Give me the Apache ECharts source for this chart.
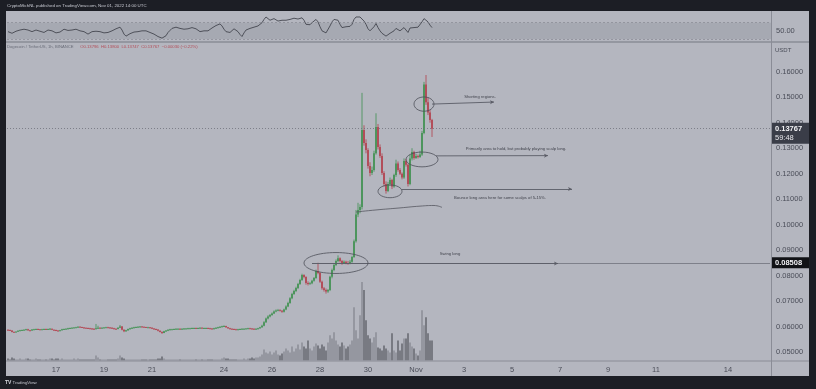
<!DOCTYPE html>
<html><head><meta charset="utf-8">
<script src="https://cdn.jsdelivr.net/npm/echarts@6/dist/echarts.min.js"></script>
<style>html,body{margin:0;padding:0;background:#1c1e25;}#c{width:816px;height:389px;}</style>
</head><body><div id="c"></div>
<script>
// ---------- DATA (2h candles, DOGE/USDT, from 15 Oct 2022 00:00) ----------
const firstOpen = 0.0588;
const closes = [
0.0587,0.0585,0.0580,0.0578,0.0581,0.0584,0.0586,0.0587,0.0588,0.0590,
0.0586,0.0585,0.0589,0.0590,0.0591,0.0590,0.0589,0.0590,0.0591,0.0590,
0.0591,0.0592,0.0588,0.0587,0.0585,0.0584,0.0586,0.0590,0.0591,0.0592,
0.0594,0.0595,0.0596,0.0597,0.0598,0.0600,0.0599,0.0597,0.0596,0.0595,
0.0594,0.0593,0.0592,0.0591,0.0594,0.0596,0.0595,0.0596,0.0597,0.0598,
0.0597,0.0596,0.0594,0.0592,0.0591,0.0596,0.0601,0.0588,0.0582,0.0586,
0.0591,0.0594,0.0596,0.0598,0.0599,0.0600,0.0601,0.0600,0.0599,0.0598,
0.0598,0.0596,0.0593,0.0591,0.0589,0.0584,0.0580,0.0576,0.0582,0.0585,
0.0588,0.0590,0.0590,0.0591,0.0592,0.0592,0.0591,0.0592,0.0593,0.0593,
0.0594,0.0594,0.0595,0.0595,0.0594,0.0595,0.0596,0.0595,0.0595,0.0595,
0.0594,0.0593,0.0592,0.0594,0.0596,0.0598,0.0600,0.0602,0.0603,0.0598,
0.0594,0.0592,0.0591,0.0590,0.0589,0.0590,0.0591,0.0592,0.0592,0.0593,
0.0594,0.0593,0.0592,0.0591,0.0592,0.0594,0.0598,0.0604,0.0618,0.0632,
0.0640,0.0646,0.0652,0.0660,0.0664,0.0666,0.0663,0.0659,0.0668,0.0680,
0.0693,0.0712,0.0729,0.0740,0.0752,0.0768,0.0783,0.0803,0.0795,0.0772,
0.0768,0.0771,0.0780,0.0791,0.0819,0.0811,0.0777,0.0751,0.0744,0.0738,
0.0744,0.0796,0.0823,0.0842,0.0858,0.0869,0.0858,0.0849,0.0855,0.0850,
0.0849,0.0855,0.0874,0.0935,0.1040,0.1058,0.1070,0.1371,0.1320,0.1293,
0.1230,0.1203,0.1215,0.1280,0.1383,0.1305,0.1270,0.1203,0.1160,0.1132,
0.1160,0.1175,0.1150,0.1195,0.1240,0.1215,0.1200,0.1185,0.1250,0.1235,
0.1160,0.1260,0.1285,0.1262,0.1270,0.1266,0.1275,0.1360,0.1550,0.1480,
0.1440,0.1411,0.13767];
const highs = [
0.0590,0.0589,0.0586,0.0582,0.0583,0.0586,0.0588,0.0589,0.0590,0.0592,
0.0592,0.0588,0.0591,0.0592,0.0593,0.0593,0.0591,0.0592,0.0593,0.0593,
0.0593,0.0595,0.0593,0.0590,0.0589,0.0587,0.0588,0.0592,0.0593,0.0594,
0.0596,0.0597,0.0598,0.0599,0.0600,0.0602,0.0602,0.0600,0.0599,0.0597,
0.0597,0.0596,0.0595,0.0594,0.0611,0.0604,0.0598,0.0598,0.0599,0.0600,
0.0600,0.0599,0.0598,0.0596,0.0594,0.0598,0.0607,0.0603,0.0590,0.0588,
0.0593,0.0596,0.0598,0.0600,0.0601,0.0602,0.0603,0.0603,0.0601,0.0600,
0.0600,0.0599,0.0598,0.0595,0.0593,0.0590,0.0586,0.0582,0.0584,0.0587,
0.0590,0.0592,0.0592,0.0593,0.0594,0.0594,0.0594,0.0594,0.0595,0.0595,
0.0596,0.0596,0.0597,0.0597,0.0597,0.0597,0.0598,0.0598,0.0597,0.0597,
0.0597,0.0596,0.0595,0.0596,0.0598,0.0600,0.0602,0.0604,0.0606,0.0604,
0.0599,0.0596,0.0594,0.0593,0.0592,0.0592,0.0593,0.0594,0.0594,0.0595,
0.0596,0.0596,0.0595,0.0594,0.0594,0.0596,0.0600,0.0608,0.0622,0.0636,
0.0645,0.0650,0.0656,0.0664,0.0668,0.0670,0.0669,0.0665,0.0671,0.0684,
0.0698,0.0716,0.0733,0.0745,0.0757,0.0772,0.0788,0.0808,0.0806,0.0798,
0.0778,0.0775,0.0784,0.0795,0.0824,0.0851,0.0815,0.0781,0.0756,0.0750,
0.0748,0.0800,0.0828,0.0847,0.0864,0.0880,0.0872,0.0862,0.0860,0.0859,
0.0858,0.0862,0.0878,0.0942,0.1058,0.1086,0.1080,0.1517,0.1390,0.1335,
0.1300,0.1245,0.1228,0.1290,0.1437,0.1395,0.1315,0.1280,0.1210,0.1170,
0.1168,0.1185,0.1180,0.1200,0.1255,0.1248,0.1222,0.1205,0.1260,0.1258,
0.1240,0.1275,0.1300,0.1290,0.1278,0.1275,0.1290,0.1368,0.1560,0.1587,
0.1500,0.1450,0.1415];
const lows = [
0.0585,0.0584,0.0578,0.0576,0.0577,0.0580,0.0583,0.0585,0.0586,0.0587,
0.0584,0.0583,0.0584,0.0588,0.0589,0.0588,0.0587,0.0588,0.0589,0.0588,
0.0589,0.0590,0.0587,0.0585,0.0583,0.0582,0.0583,0.0585,0.0589,0.0590,
0.0590,0.0592,0.0594,0.0595,0.0596,0.0597,0.0598,0.0596,0.0594,0.0593,
0.0592,0.0591,0.0590,0.0589,0.0590,0.0592,0.0593,0.0594,0.0595,0.0596,
0.0595,0.0594,0.0592,0.0590,0.0589,0.0590,0.0595,0.0586,0.0579,0.0580,
0.0584,0.0589,0.0592,0.0594,0.0596,0.0597,0.0598,0.0598,0.0597,0.0596,
0.0596,0.0594,0.0591,0.0589,0.0587,0.0582,0.0578,0.0572,0.0575,0.0580,
0.0583,0.0586,0.0588,0.0588,0.0589,0.0590,0.0589,0.0589,0.0590,0.0591,
0.0591,0.0592,0.0592,0.0593,0.0592,0.0592,0.0593,0.0593,0.0593,0.0593,
0.0592,0.0591,0.0590,0.0590,0.0592,0.0594,0.0596,0.0598,0.0600,0.0596,
0.0592,0.0590,0.0589,0.0588,0.0587,0.0587,0.0588,0.0589,0.0590,0.0591,
0.0591,0.0591,0.0590,0.0589,0.0589,0.0590,0.0592,0.0596,0.0602,0.0615,
0.0629,0.0637,0.0643,0.0650,0.0657,0.0661,0.0660,0.0655,0.0656,0.0665,
0.0677,0.0690,0.0708,0.0725,0.0736,0.0748,0.0764,0.0780,0.0790,0.0765,
0.0762,0.0764,0.0767,0.0777,0.0788,0.0806,0.0772,0.0745,0.0738,0.0730,
0.0733,0.0740,0.0790,0.0818,0.0838,0.0853,0.0852,0.0843,0.0846,0.0845,
0.0843,0.0845,0.0851,0.0870,0.0930,0.1030,0.1045,0.1060,0.1310,0.1280,
0.1220,0.1190,0.1195,0.1208,0.1275,0.1295,0.1262,0.1195,0.1150,0.1122,
0.1128,0.1152,0.1140,0.1145,0.1188,0.1208,0.1195,0.1178,0.1180,0.1228,
0.1150,0.1155,0.1252,0.1255,0.1258,0.1260,0.1262,0.1270,0.1355,0.1470,
0.1430,0.1400,0.1344];
const volumes = [
2,1,3,2,1,1,2,1,1,2, 2,1,1,1,2,1,1,1,1,1, 1,2,2,1,2,2,1,2,1,1,
1,1,1,2,1,2,1,1,1,1, 1,1,1,1,5,3,1,1,1,1, 1,1,1,1,1,2,5,3,2,1,
1,1,1,1,1,1,1,1,1,1, 1,1,1,1,1,2,2,4,2,1, 1,1,1,1,1,1,1,1,1,1,
1,1,1,1,1,1,1,1,1,1, 1,1,1,1,1,1,1,2,3,2, 2,1,1,1,1,1,1,1,2,1,
2,2,3,2,3,3,4,6,11,8, 7,9,6,8,10,6,5,7,9,12, 10,8,14,9,12,16,11,18,14,12,
20,12,10,14,17,15,12,16,14,10, 18,25,22,28,20,16,14,18,15,12,
14,16,20,53,30,22,45,78,70,40, 25,22,18,23,28,13,12,10,15,12,
10,8,27,10,8,20,10,17,22,22, 27,18,14,12,7,5,10,50,35,43, 27,20,20];
const rsi = [
48,46,44,46,49,51,52,53,54,54, 52,49,48,50,52,51,49,47,46,48,
52,56,50,47,45,44,47,51,54,53, 51,50,52,53,54,52,50,49,48,47,
42,40,48,50,49,48,48,46,45,44, 46,48,50,53,55,57,59,52,42,37,
39,43,45,47,48,48,49,50,51,50, 48,46,44,42,39,36,33,32,35,38,
46,51,56,60,59,57,56,55,54,53, 55,57,58,57,55,51,48,47,50,51,
50,53,57,60,63,66,67,62,54,48, 44,46,50,55,53,48,41,36,45,52,
55,56,58,59,61,62,64,70,78,84, 82,76,78,80,77,74,72,76,78,76,
74,78,80,81,80,79,81,82,76,66, 62,65,70,74,78,72,60,50,47,45,
48,62,72,78,81,76,66,58,62,60, 58,61,66,78,84,85,84,86,74,66,
55,50,52,60,68,58,50,44,40,37, 40,44,42,50,56,52,50,48,58,55,
46,57,61,58,60,59,62,72,80,82, 72,64,58];
const slotCount = 382;                      // 2h slots shown on the time axis
const tickSlots  = [24,48,72,108,132,156,180,204,228,252,276,300,324,360];
const tickLabels = ['17','19','21','24','26','28','30','Nov','3','5','7','9','11','14'];
const lastPrice = 0.13767, swingPrice = 0.08508;
const rsiBand = [30, 70];
// annotations in data units (slot, price)
const ellipses = [
  {slot:164, price:0.0850, halfSlots:16, halfPrice:0.0041},
  {slot:191, price:0.1131, halfSlots:6,  halfPrice:0.0025},
  {slot:207, price:0.1256, halfSlots:8,  halfPrice:0.0029},
  {slot:208, price:0.1473, halfSlots:5,  halfPrice:0.0028}
];
const arrows = [
  {from:[152,0.0848], to:[275,0.0848]},
  {from:[197,0.1140], to:[282,0.1140]},
  {from:[214,0.1270], to:[270,0.1271]},
  {from:[212,0.1473], to:[243,0.1481]}
];
const curve = [[174,0.1050],[184,0.1058],[196,0.1066],[206,0.1073],[213,0.10755],[217,0.1068]];
const notes = [
  {text:'Swing long', slot:221, price:0.0885},
  {text:'Bounce long area here for some scalps of 5-15%.', slot:246, price:0.1107},
  {text:'Primarily area to hold, but probably playing scalp long.', slot:254, price:0.1297},
  {text:'Shorting regions.', slot:236, price:0.1503}
];
// ---------------------------------------------------------------------------

const categories = [];
const t0 = Date.UTC(2022, 9, 15, 0);
for (let i = 0; i < slotCount; i++) {
  const d = new Date(t0 + i * 7200000);
  categories.push(d.toISOString().slice(0, 13) + ':00');
}
const UP = '#3f9150', DOWN = '#b2404d';
const candles = closes.map((c, i) => [i, i === 0 ? firstOpen : closes[i - 1], c, lows[i], highs[i]]);
const volData = volumes.map((v, i) => ({
  value: v,
  itemStyle: {color: candles[i][2] >= candles[i][1] ? '#8b8d96' : '#64666e'}
}));
const FONT = 'Liberation Sans';
const AXC = '#4a4d58';

function renderCandle(params, api) {
  const i = api.value(0), o = api.value(1), c = api.value(2), l = api.value(3), h = api.value(4);
  const po = api.coord([i, o]), pc = api.coord([i, c]);
  const pl = api.coord([i, l]), ph = api.coord([i, h]);
  const x = po[0];
  const col = c >= o ? UP : DOWN;
  const top = Math.min(po[1], pc[1]);
  const hgt = Math.max(0.9, Math.abs(po[1] - pc[1]));
  return {type: 'group', children: [
    {type: 'line', shape: {x1: x, y1: ph[1], x2: x, y2: pl[1]}, style: {stroke: col, lineWidth: 0.8}},
    {type: 'rect', shape: {x: x - 0.8, y: top, width: 1.6, height: hgt}, style: {fill: col}}
  ]};
}

const xAxes = [0, 1, 2].map(g => ({
  type: 'category', gridIndex: g, data: categories, boundaryGap: true,
  axisLine: {show: false}, axisTick: {show: false}, splitLine: {show: false},
  axisLabel: g === 2 ? {
    show: true, color: AXC, fontSize: 7.5, fontFamily: FONT, margin: 5,
    interval: (idx) => tickSlots.indexOf(idx) >= 0,
    formatter: (val, idx) => { const k = tickSlots.indexOf(idx); return k >= 0 ? tickLabels[k] : ''; }
  } : {show: false}
}));

const option = {
  backgroundColor: '#1c1e25',
  animation: false,
  grid: [
    {left: 7, right: 45, top: 11, height: 31},
    {left: 7, right: 45, top: 20.68, height: 357.12},
    {left: 7, right: 45, top: 270, height: 90.5}
  ],
  xAxis: xAxes,
  yAxis: [
    {gridIndex: 0, min: 22.6, max: 98.7, show: false},
    {gridIndex: 1, position: 'right', min: 0.04, max: 0.18, interval: 0.01,
     axisLine: {show: false}, axisTick: {show: false}, splitLine: {show: false},
     axisLabel: {color: AXC, fontSize: 7.5, fontFamily: FONT, margin: 5,
       formatter: v => { const k = Math.round(v * 100); return (k >= 5 && k <= 16) ? (k / 100).toFixed(5) : ''; }}},
    {gridIndex: 2, min: 0, max: 90, show: false}
  ],
  series: [
    {type: 'bar', xAxisIndex: 2, yAxisIndex: 2, data: volData, barWidth: 1.5, z: 1, silent: true},
    {type: 'line', xAxisIndex: 0, yAxisIndex: 0, data: rsi, showSymbol: false, silent: true,
     lineStyle: {color: '#44464f', width: 0.9},
     markArea: {silent: true, itemStyle: {color: 'rgba(120,122,134,0.22)'}, data: [[{yAxis: rsiBand[0]}, {yAxis: rsiBand[1]}]]},
     markLine: {silent: true, symbol: 'none', label: {show: false},
       lineStyle: {color: '#80828c', type: [2, 2], width: 0.6}, data: [{yAxis: rsiBand[0]}, {yAxis: rsiBand[1]}]}},
    {type: 'custom', xAxisIndex: 1, yAxisIndex: 1, data: candles, renderItem: renderCandle, z: 3, silent: true,
     encode: {x: 0, y: [1, 2, 3, 4]}, clip: true,
     markLine: {silent: true, label: {show: false}, animation: false,
       data: [
         [{yAxis: lastPrice, x: 7, symbol: 'none', lineStyle: {color: '#6f717b', type: [1, 2], width: 0.8}},
          {yAxis: lastPrice, x: 771, symbol: 'none'}],
         [{coord: [152, swingPrice], symbol: 'none', lineStyle: {color: '#70727c', width: 0.8, type: 'solid'}},
          {coord: [slotCount - 1, swingPrice], symbol: 'none'}]
       ].concat(arrows.map(a => [
         {coord: a.from, symbol: 'none', lineStyle: {color: '#5a5c66', width: 0.9, type: 'solid'}},
         {coord: a.to, symbol: 'arrow', symbolSize: [3, 4]}
       ]))}
    },
    {type: 'line', xAxisIndex: 1, yAxisIndex: 1, data: curve, smooth: true, showSymbol: false, silent: true,
     lineStyle: {color: '#55575f', width: 0.8}, z: 4}
  ]
};

const chart = echarts.init(document.getElementById('c'));
chart.setOption(option);

const px = (s, p) => chart.convertToPixel({xAxisIndex: 1, yAxisIndex: 1}, [s, p]);
const rsiY = v => chart.convertToPixel({xAxisIndex: 0, yAxisIndex: 0}, [0, v])[1];
const g = [];
g.push({type: 'rect', z: -10, shape: {x: 6, y: 11, width: 803, height: 365}, style: {fill: '#b4b6bf'}});
const SEP = '#8a8c96';
g.push({type: 'line', z: 60, shape: {x1: 6, y1: 42, x2: 809, y2: 42}, style: {stroke: SEP, lineWidth: 1.4}});
g.push({type: 'line', z: 60, shape: {x1: 771.5, y1: 11, x2: 771.5, y2: 376}, style: {stroke: SEP, lineWidth: 1}});
g.push({type: 'line', z: 60, shape: {x1: 6, y1: 361, x2: 809, y2: 361}, style: {stroke: SEP, lineWidth: 1}});
ellipses.forEach(e => {
  const c = px(e.slot, e.price), q = px(e.slot + e.halfSlots, e.price - e.halfPrice);
  g.push({type: 'ellipse', z: 50, shape: {cx: c[0], cy: c[1], rx: Math.abs(q[0] - c[0]), ry: Math.abs(q[1] - c[1])},
          style: {fill: 'none', stroke: '#4d4f58', lineWidth: 0.8}});
});
notes.forEach(n => {
  const p = px(n.slot, n.price);
  g.push({type: 'text', z: 50, x: p[0], y: p[1], style: {text: n.text, fill: '#42444d', fontSize: 4.2, fontFamily: FONT, align: 'center', verticalAlign: 'middle'}});
});
g.push({type: 'text', z: 60, x: 775, y: 50, style: {text: 'USDT', fill: AXC, fontSize: 6, fontFamily: FONT, verticalAlign: 'middle'}});
g.push({type: 'text', z: 60, x: 776, y: rsiY(50), style: {text: '50.00', fill: AXC, fontSize: 7.5, fontFamily: FONT, verticalAlign: 'middle'}});
const yl = px(0, lastPrice)[1];
g.push({type: 'rect', z: 70, shape: {x: 772, y: yl - 6, width: 37, height: 21}, style: {fill: '#3a3d48'}});
g.push({type: 'text', z: 71, x: 775, y: yl, style: {text: lastPrice.toFixed(5), fill: '#f2f2f5', fontSize: 7.5, fontWeight: 'bold', fontFamily: FONT, verticalAlign: 'middle'}});
g.push({type: 'text', z: 71, x: 775, y: yl + 9, style: {text: '59:48', fill: '#e6e6ea', fontSize: 7.5, fontFamily: FONT, verticalAlign: 'middle'}});
const ys = px(0, swingPrice)[1];
g.push({type: 'rect', z: 70, shape: {x: 772, y: ys - 5.5, width: 37, height: 11}, style: {fill: '#111216'}});
g.push({type: 'text', z: 71, x: 775, y: ys, style: {text: swingPrice.toFixed(5), fill: '#f2f2f5', fontSize: 7.5, fontWeight: 'bold', fontFamily: FONT, verticalAlign: 'middle'}});
g.push({type: 'text', z: 80, x: 7, y: 5.5, style: {text: 'CryptoMichNL published on TradingView.com, Nov 01, 2022 14:00 UTC', fill: '#c9cbd3', fontSize: 4.4, fontFamily: FONT, verticalAlign: 'middle'}});
g.push({type: 'text', z: 80, x: 7, y: 47, style: {
  text: '{a|Dogecoin / TetherUS, 1h, BINANCE}  {b|O0.13796  H0.13800  L0.13747  C0.13767  −0.00030 (−0.22%)}',
  fontFamily: FONT, verticalAlign: 'middle',
  rich: {a: {fill: '#6a6d79', fontSize: 4.2, fontFamily: FONT}, b: {fill: '#b24c57', fontSize: 4.2, fontFamily: FONT}}}});
g.push({type: 'text', z: 80, x: 5, y: 383, style: {text: '{l|TV} TradingView', fill: '#c9cbd3', fontSize: 4.4, fontFamily: FONT, verticalAlign: 'middle',
  rich: {l: {fontSize: 5, fontWeight: 'bold', fill: '#d6d8de'}}}});
chart.setOption({graphic: {elements: g}});
</script>
</body></html>
